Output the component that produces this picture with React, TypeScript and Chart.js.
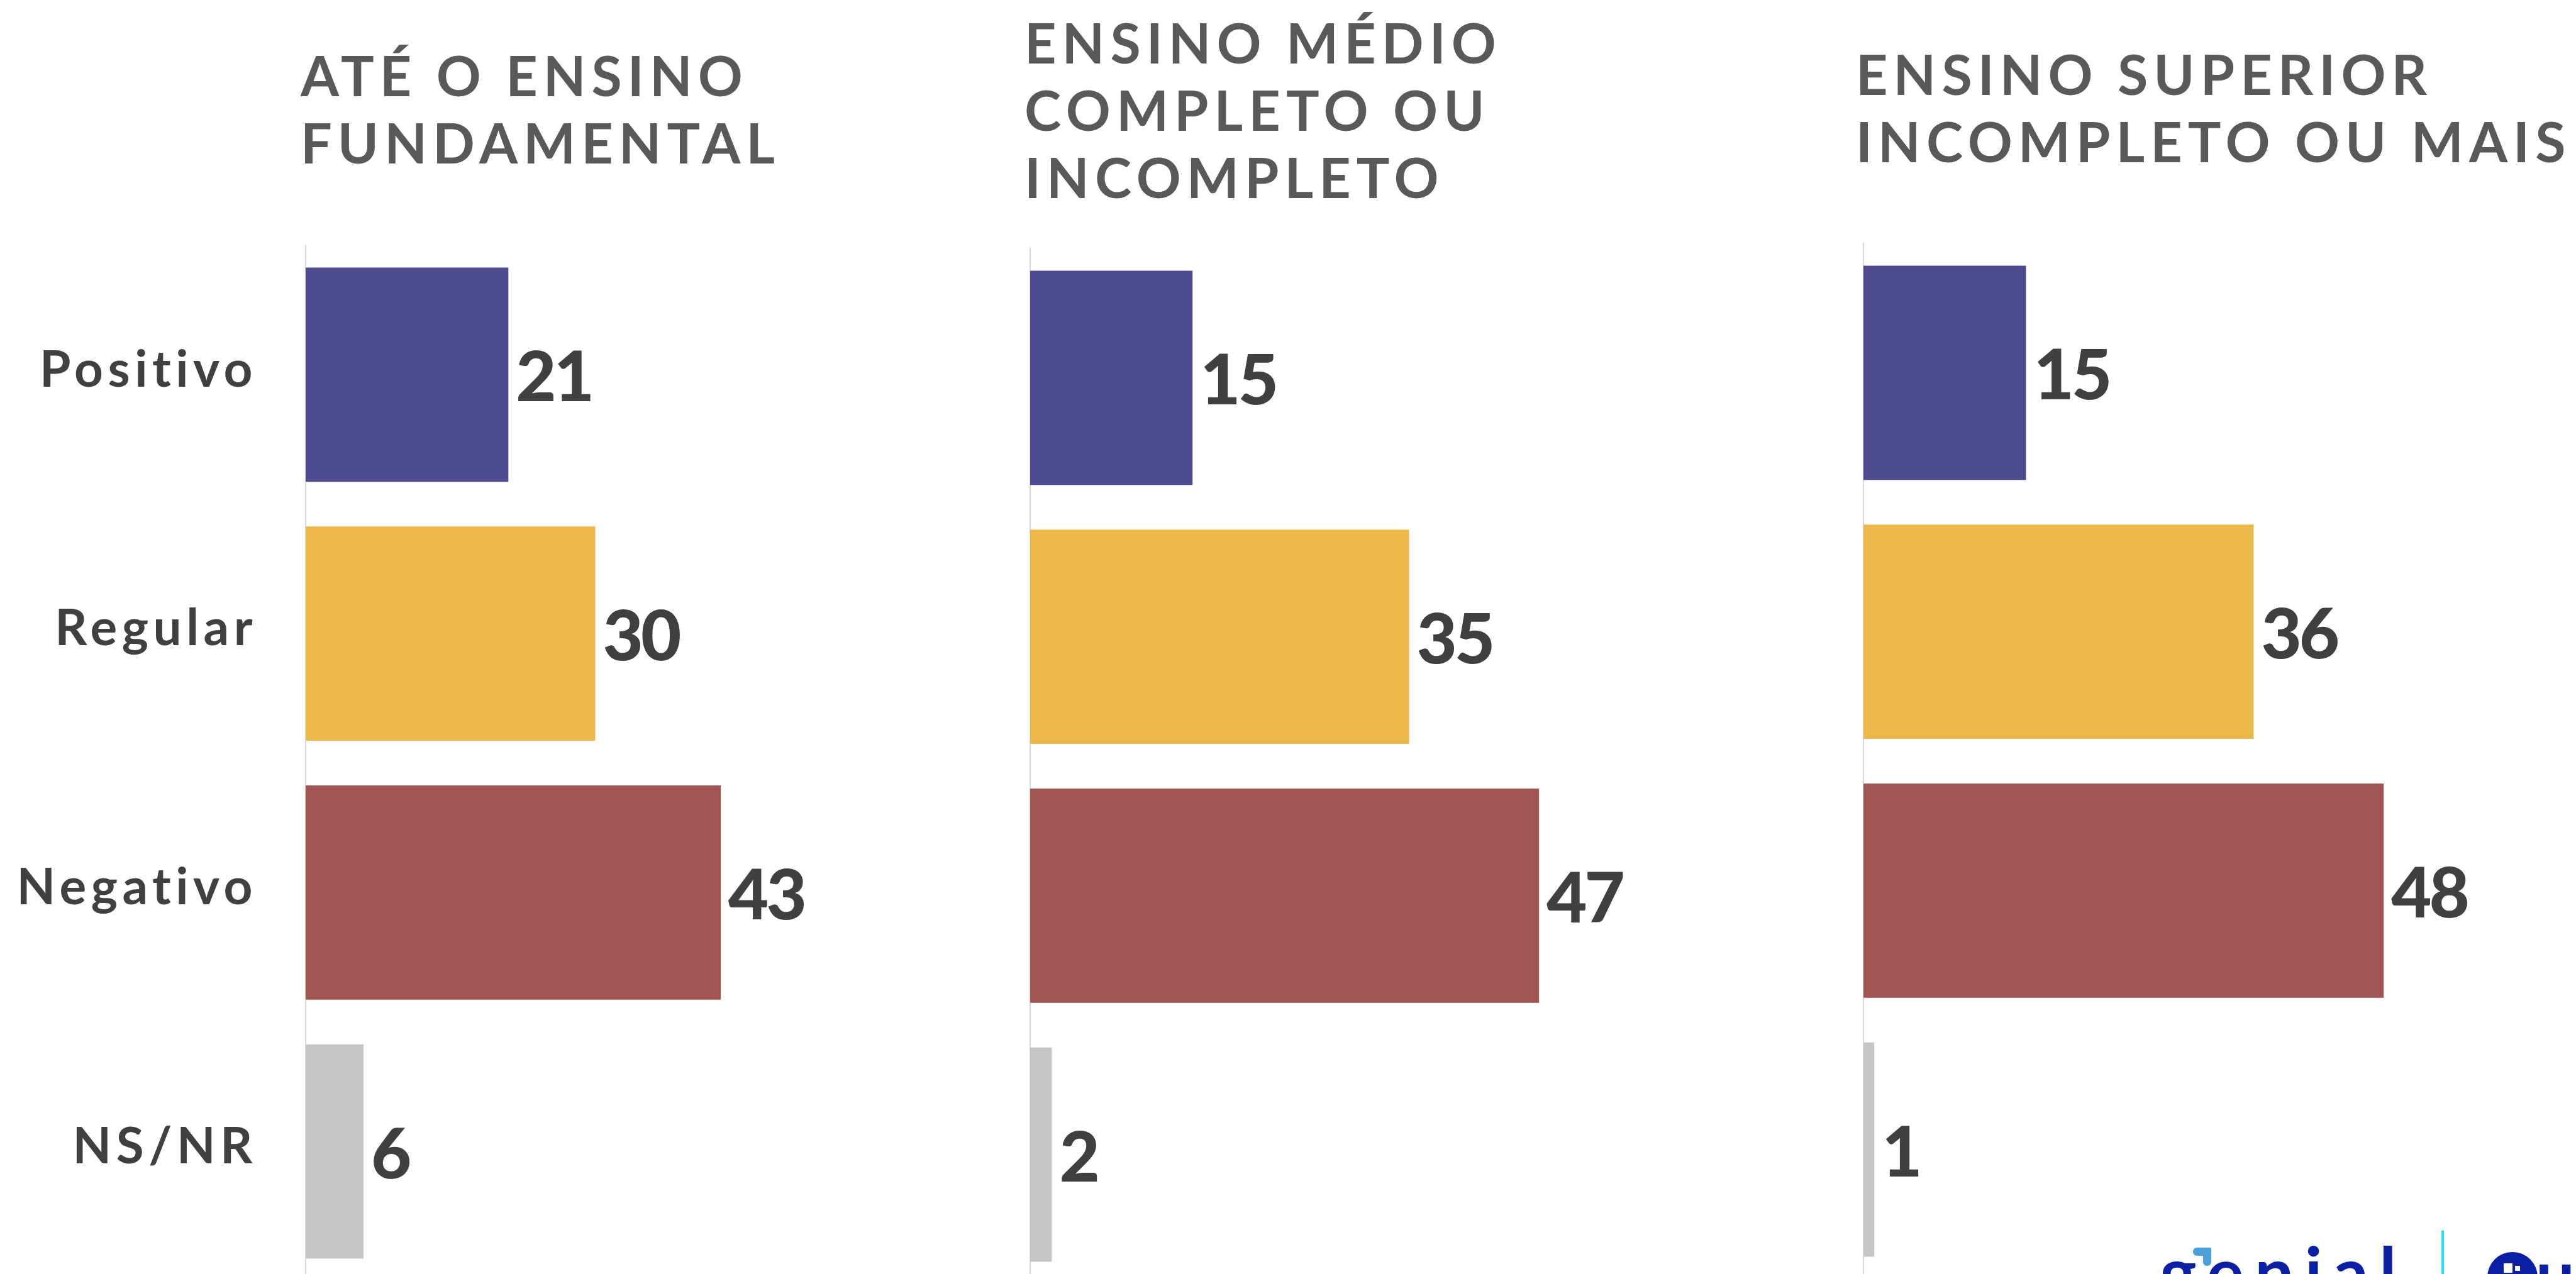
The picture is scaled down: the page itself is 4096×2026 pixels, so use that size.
import React, { useEffect, useRef } from 'react';
import { Chart, registerables } from 'chart.js';

Chart.register(...registerables);

// ---------- data ----------
const categories = ['Positivo', 'Regular', 'Negativo', 'NS/NR'];
const titleFundamental = ['ATÉ O ENSINO', 'FUNDAMENTAL'];
const titleMedio = ['ENSINO MÉDIO', 'COMPLETO OU', 'INCOMPLETO'];
const titleSuperior = ['ENSINO SUPERIOR', 'INCOMPLETO OU MAIS'];
const fundamentalValues = [21, 30, 43, 6];
const medioValues = [15, 35, 47, 2];
const superiorValues = [15, 36, 48, 1];
const barColors = ['#4e4b8f', '#ecb848', '#a05553', '#c6c6c6'];

// ---------- layout (output pixels) ----------
const BAND = 411.8;
const XMAX = 60;
const RIGHT_PAD = 160;

type Panel = {
  values: number[];
  title: string[];
  left: number;
  axisW: number;
  chartTop: number;
  plotW: number;
  showLabels: boolean;
  titleTop: number;
  titleLeft: number;
};

const panels: Panel[] = [
  { values: fundamentalValues, title: titleFundamental, left: 0, axisW: 486, chartTop: 390, plotW: 921, showLabels: true, titleTop: 66, titleLeft: 478 },
  { values: medioValues, title: titleMedio, left: 1618, axisW: 20, chartTop: 395, plotW: 1033, showLabels: false, titleTop: 14, titleLeft: 1629 },
  { values: superiorValues, title: titleSuperior, left: 2943, axisW: 20, chartTop: 387, plotW: 1034, showLabels: false, titleTop: 64, titleLeft: 2951 },
];

const spacingPlugin = {
  id: 'tickSpacing',
  beforeDraw(chart: any) {
    (chart.ctx as any).letterSpacing = '7.5px';
  },
};

const valueLabelPlugin = {
  id: 'valueLabels',
  afterDatasetsDraw(chart: any) {
    const ctx = chart.ctx;
    const meta = chart.getDatasetMeta(0);
    const data = chart.data.datasets[0].data as number[];
    ctx.save();
    (ctx as any).letterSpacing = '-4px';
    ctx.font = '900 111px Lato';
    ctx.fillStyle = '#404040';
    ctx.textAlign = 'left';
    ctx.textBaseline = 'alphabetic';
    meta.data.forEach((bar: any, i: number) => {
      ctx.fillText(String(data[i]), bar.x + 12, bar.y + 42.5);
    });
    ctx.restore();
  },
};

function BarPanel({ p }: { p: Panel }) {
  const ref = useRef<HTMLCanvasElement>(null);
  const width = p.axisW + p.plotW + RIGHT_PAD;
  const height = Math.round(p.chartTop + 4 * BAND);

  useEffect(() => {
    if (!ref.current) return;
    const chart = new Chart(ref.current, {
      type: 'bar',
      data: {
        labels: categories,
        datasets: [
          {
            data: p.values,
            backgroundColor: barColors,
            borderWidth: 0,
            barPercentage: 0.828,
            categoryPercentage: 1,
          },
        ],
      },
      options: {
        indexAxis: 'y',
        responsive: false,
        animation: false,
        devicePixelRatio: 1,
        layout: { padding: { top: p.chartTop, right: RIGHT_PAD, bottom: 0, left: 0 } },
        plugins: {
          legend: { display: false },
          tooltip: { enabled: false },
          title: { display: false },
        },
        scales: {
          x: { display: false, min: 0, max: XMAX },
          y: {
            afterFit: (s: any) => {
              s.width = p.axisW;
              s.paddingTop = 0;
              s.paddingBottom = 0;
            },
            grid: { display: false },
            border: { display: true, color: '#d9d9d9', width: 2 },
            ticks: {
              display: p.showLabels,
              padding: 69,
              labelOffset: -7,
              color: '#404040',
              font: { family: 'Lato', size: 80, weight: 'bold' },
            },
          },
        },
      } as any,
      plugins: [spacingPlugin, valueLabelPlugin],
    });
    return () => chart.destroy();
  }, []);

  return (
    <canvas
      ref={ref}
      width={width}
      height={height}
      style={{ position: 'absolute', left: p.left, top: 0, width, height }}
    />
  );
}

export default function App() {
  return (
    <div
      style={{
        position: 'fixed',
        left: 0,
        top: 0,
        width: 4096,
        height: 2026,
        overflow: 'hidden',
        background: '#ffffff',
      }}
    >
      {panels.map((p, i) => (
        <React.Fragment key={i}>
          <div
            style={{
              position: 'absolute',
              left: p.titleLeft,
              top: p.titleTop,
              whiteSpace: 'pre',
              fontFamily: 'Lato',
              fontWeight: 700,
              fontSize: 88,
              lineHeight: '106.8px',
              letterSpacing: '9px',
              color: '#595959',
            }}
          >
            {p.title.join('\n')}
          </div>
          <BarPanel p={p} />
        </React.Fragment>
      ))}
      {/* logos at bottom right (cut by the frame) */}
      <div
        style={{
          position: 'absolute',
          left: 3434,
          top: 1966,
          fontFamily: 'Lato',
          fontWeight: 700,
          fontSize: 111,
          lineHeight: '111px',
          letterSpacing: '17px',
          color: '#0a1fa3',
          whiteSpace: 'pre',
        }}
      >
        genial
      </div>
      <div style={{ position: 'absolute', left: 3487, top: 1984, width: 29, height: 13, borderRadius: '6px 2px 2px 6px', background: '#4aa0da' }} />
      <div style={{ position: 'absolute', left: 3503, top: 1984, width: 13, height: 29, borderRadius: '2px 2px 6px 6px', background: '#4aa0da' }} />
      <div style={{ position: 'absolute', left: 3882, top: 1957, width: 4, height: 80, background: '#19e6f5' }} />
      <div style={{ position: 'absolute', left: 3955, top: 1991, width: 80, height: 80, borderRadius: '50%', background: '#0a1fa3' }}>
        <div style={{ position: 'absolute', left: 26, top: 18, width: 14, height: 15, background: '#fff' }} />
        <div style={{ position: 'absolute', left: 44, top: 22, width: 8, height: 8, background: '#fff' }} />
      </div>
      <div
        style={{
          position: 'absolute',
          left: 4032,
          top: 1969,
          fontFamily: 'Lato',
          fontWeight: 700,
          fontSize: 110,
          lineHeight: '110px',
          color: '#0a1fa3',
          whiteSpace: 'pre',
        }}
      >
        uaest
      </div>
    </div>
  );
}
